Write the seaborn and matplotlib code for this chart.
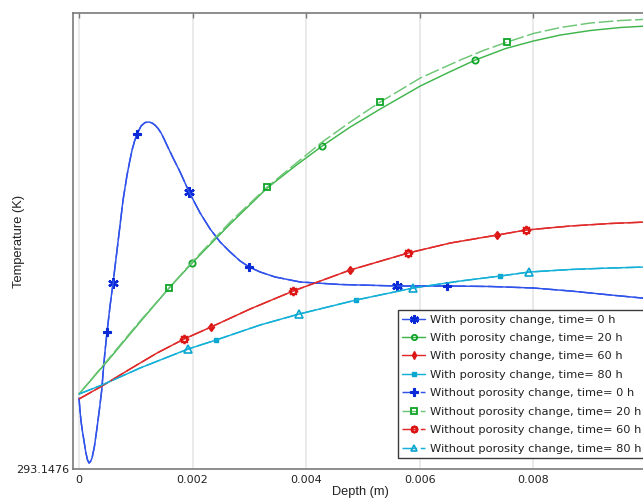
import numpy as np
import pandas as pd
import matplotlib
matplotlib.use("Agg")
import matplotlib.pyplot as plt
from matplotlib.lines import Line2D
import seaborn as sns

# ---------------- data (depth in mm, temperature in K) ----------------
blue_depth_mm = [0, 0.0176, 0.0352, 0.0564, 0.0793, 0.1181, 0.1498, 0.1762, 0.2026, 0.2291,
                 0.2696, 0.3119, 0.3577, 0.4000, 0.4282, 0.4581, 0.4934, 0.5463, 0.5991, 0.6696,
                 0.7225, 0.7753, 0.8458, 0.8899, 0.9339, 0.9780, 1.0220, 1.0925, 1.1630, 1.2335,
                 1.2863, 1.3392, 1.3921, 1.4449, 1.4978, 1.5507, 1.6564, 1.7797, 1.9383, 2.1322,
                 2.3084, 2.4846, 2.6608, 2.8370, 2.9956, 3.1894, 3.4537, 3.8943, 4.5991, 5.6035,
                 6.4846, 7.2423, 8.0000, 8.6520, 9.3568, 10.0]
blue_with_temp = [293.1547, 293.1534, 293.1524, 293.1515, 293.1507, 293.1493, 293.1485, 293.1482,
                  293.14835, 293.1487, 293.1498, 293.1515, 293.1535, 293.1555, 293.1575, 293.1594,
                  293.1613, 293.1639, 293.1662, 293.1695, 293.1720, 293.1745, 293.1770, 293.1783,
                  293.1795, 293.1804, 293.1811, 293.1819, 293.18225, 293.1823, 293.1822, 293.18198,
                  293.18165, 293.1812, 293.1806, 293.17995, 293.1787, 293.1773, 293.1753, 293.1732,
                  293.1716, 293.1703, 293.1693, 293.1684, 293.1678, 293.1673, 293.1668, 293.1663,
                  293.16605, 293.1659, 293.1659, 293.16585, 293.1657, 293.1654, 293.1650, 293.16465]
blue_without_temp = list(blue_with_temp)

green_with_depth_mm = [0, 0.5463, 1.0749, 1.5859, 1.9912, 2.6608, 3.3128, 3.8062, 4.2819, 4.7753,
                       5.3040, 6.0088, 6.4846, 6.9780, 7.5066, 8.0, 8.4758, 9.0044, 9.5330, 10.0]
green_with_temp = [293.1551, 293.1587, 293.1623, 293.1657, 293.1682, 293.1721, 293.1757, 293.1779,
                   293.1799, 293.1818, 293.1836, 293.1859, 293.1872, 293.1885, 293.18964, 293.1904,
                   293.1910, 293.19145, 293.19175, 293.1919]
green_without_depth_mm = [0, 0.5463, 1.0749, 1.5859, 1.9912, 2.6608, 3.3128, 3.8062, 4.2819, 4.7753,
                          5.3040, 6.0088, 6.7137, 7.1189, 7.5419, 8.0, 8.4758, 9.0044, 9.5330, 10.0]
green_without_temp = [293.1551, 293.1588, 293.1624, 293.1657, 293.1683, 293.1723, 293.1758, 293.1781,
                      293.1803, 293.1823, 293.1843, 293.1867, 293.1885, 293.18945, 293.1903, 293.19115,
                      293.19175, 293.1922, 293.19245, 293.19257]

red_depth_mm = [0, 0.4053, 0.8987, 1.3744, 1.8502, 2.3260, 3.0132, 3.7709, 4.7753, 5.7974,
                6.5374, 7.3656, 7.8767, 8.6520, 9.3568, 10.0]
red_with_temp = [293.1546, 293.1559, 293.1576, 293.1592, 293.1606, 293.1618, 293.1636, 293.1654,
                 293.1675, 293.1692, 293.1702, 293.1710, 293.1715, 293.1719, 293.17215, 293.1723]
red_without_temp = list(red_with_temp)

cyan_depth_mm = [0, 0.4053, 1.0749, 1.9207, 2.4141, 3.1894, 3.8767, 4.8811, 5.8855, 6.7137,
                 7.4185, 7.9295, 8.6520, 9.3568, 10.0]
cyan_with_temp = [293.1551, 293.1560, 293.1577, 293.1596, 293.1605, 293.1620, 293.1631, 293.1645,
                  293.1657, 293.1664, 293.1669, 293.1673, 293.16755, 293.1677, 293.1678]
cyan_without_temp = list(cyan_with_temp)

# depths (mm) at which the markers sit
blue_with_marks = [0.5991, 1.9383, 5.6035]
blue_without_marks = [0.4934, 1.0220, 2.9956, 6.4846]
green_with_marks = [1.9912, 4.2819, 6.9780]
green_without_marks = [1.5859, 3.3128, 5.3040, 7.5419]
red_with_marks = [2.3260, 4.7753, 7.3656]
red_without_marks = [1.8502, 3.7709, 5.7974, 7.8767]
cyan_with_marks = [2.4141, 4.8811, 7.4185]
cyan_without_marks = [1.9207, 3.8767, 5.8855, 7.9295]

labels = ["With porosity change, time= 0 h", "With porosity change, time= 20 h",
          "With porosity change, time= 60 h", "With porosity change, time= 80 h",
          "Without porosity change, time= 0 h", "Without porosity change, time= 20 h",
          "Without porosity change, time= 60 h", "Without porosity change, time= 80 h"]

x_ticks = [0, 0.002, 0.004, 0.006, 0.008]
x_tick_labels = ["0", "0.002", "0.004", "0.006", "0.008"]
y_min_label = "293.1476"

# ---------------- styles ----------------
BLUE, BLUE_M = "#2f52ea", "#0a2ad8"
GREEN, GREEN_D, GREEN_M = "#3fb54c", "#6cc676", "#0ea528"
RED, RED_M = "#e02a2a", "#dc1515"
CYAN, CYAN_M = "#14b0d8", "#0ba6cf"
DASH = (0, (10, 2.5))

series = [
    (blue_depth_mm, blue_with_temp, blue_with_marks, dict(color=BLUE, ls="-", marker=(6, 2, 0), ms=7.5, mfc=BLUE_M, mec=BLUE_M, mew=1.7)),
    (green_with_depth_mm, green_with_temp, green_with_marks, dict(color=GREEN, ls="-", marker="o", ms=4.5, mfc="none", mec=GREEN_M, mew=1.3)),
    (red_depth_mm, red_with_temp, red_with_marks, dict(color=RED, ls="-", marker="d", ms=4.5, mfc=RED_M, mec=RED_M, mew=1.0)),
    (cyan_depth_mm, cyan_with_temp, cyan_with_marks, dict(color=CYAN, ls="-", marker="s", ms=3.5, mfc=CYAN_M, mec=CYAN_M, mew=1.0)),
    (blue_depth_mm, blue_without_temp, blue_without_marks, dict(color=BLUE, ls=DASH, marker="P", ms=6, mfc=BLUE_M, mec=BLUE_M, mew=0.8)),
    (green_without_depth_mm, green_without_temp, green_without_marks, dict(color=GREEN_D, ls=DASH, marker="s", ms=5, mfc="none", mec=GREEN_M, mew=1.3)),
    (red_depth_mm, red_without_temp, red_without_marks, dict(color=RED, ls=DASH, marker=(8, 1, 0), ms=6.5, mfc="none", mec=RED_M, mew=1.3)),
    (cyan_depth_mm, cyan_without_temp, cyan_without_marks, dict(color=CYAN, ls=DASH, marker="^", ms=5.5, mfc="none", mec=CYAN_M, mew=1.2)),
]

sns.set_style("white")
plt.rcParams["font.family"] = ["DejaVu Sans"]

fig = plt.figure(figsize=(6.43, 4.98), dpi=100)
ax = fig.add_axes([73 / 643, 29 / 498, 574 / 643, 456 / 498])

handles = []
for (dmm, temp, marks, st), lab in zip(series, labels):
    df = pd.DataFrame({"depth": np.array(dmm) / 1000.0, "T": temp})
    mk = [dmm.index(v) for v in marks]
    sns.lineplot(data=df, x="depth", y="T", ax=ax, estimator=None, sort=False,
                 color=st["color"], linestyle=st["ls"], linewidth=1.05,
                 marker=st["marker"], markevery=mk, markersize=st["ms"],
                 markerfacecolor=st["mfc"], markeredgecolor=st["mec"],
                 markeredgewidth=st["mew"], legend=False)
    handles.append(Line2D([], [], color=st["color"], linestyle=st["ls"], linewidth=1.05,
                          marker=st["marker"], markersize=st["ms"] * 0.85,
                          markerfacecolor=st["mfc"], markeredgecolor=st["mec"],
                          markeredgewidth=st["mew"], label=lab))

ax.set_xlim(-0.000106, 0.01)
ax.set_ylim(293.1476, 293.1932)
ax.set_xticks(x_ticks)
ax.set_xticklabels(x_tick_labels)
ax.set_yticks([293.1476])
ax.set_yticklabels([y_min_label])

ax.grid(axis="x", color="#e4e4e4", linewidth=1.1)
ax.grid(axis="y", visible=False)
ax.set_axisbelow(True)

for s in ax.spines.values():
    s.set_color("#7a7a7a")
    s.set_linewidth(1.2)

ax.tick_params(axis="both", direction="in", length=3.5, width=1.0, color="#7a7a7a",
               labelsize=8, labelcolor="#222222")
ax.tick_params(axis="x", top=True, pad=4.5)
ax.tick_params(axis="y", pad=3)

ax.set_xlabel("Depth (m)", fontsize=9.2, family=["Liberation Sans", "DejaVu Sans"], color="#222222")
ax.set_ylabel("Temperature (K)", fontsize=9.3, family=["Liberation Sans", "DejaVu Sans"], color="#222222")
ax.xaxis.set_label_coords(0.5, -0.038)
ax.yaxis.set_label_coords(-0.083, 0.5)

leg = ax.legend(handles=handles, loc="lower right", bbox_to_anchor=(0.998, 0.024),
                borderaxespad=0, fontsize=8.2, frameon=True, fancybox=False,
                framealpha=1, edgecolor="#3a3a3a", labelspacing=0.74,
                handlelength=2.0, handletextpad=0.4, borderpad=0.4)
leg.get_frame().set_linewidth(1.0)
for t in leg.get_texts():
    t.set_color("#222222")

fig.savefig("out.png", dpi=100)
